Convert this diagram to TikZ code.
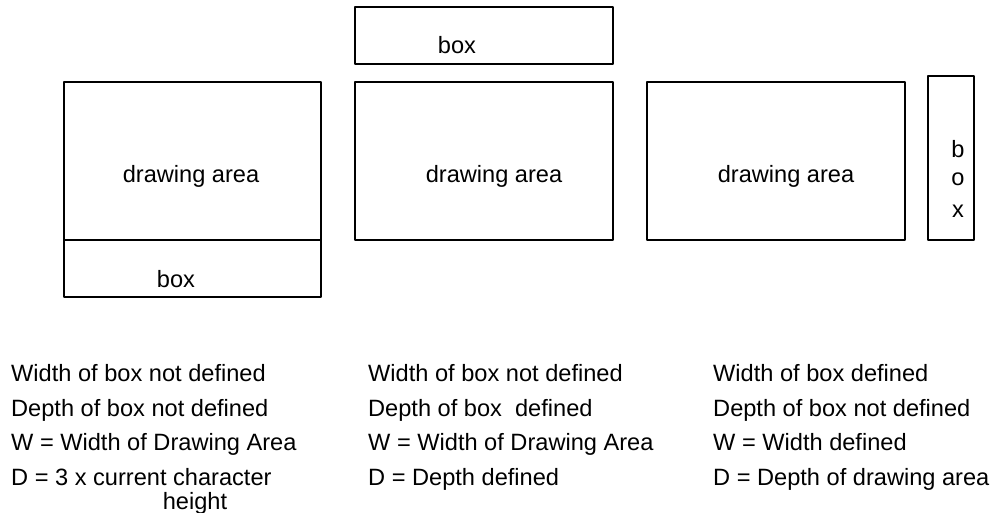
\documentclass[tikz,border=0pt]{standalone}
\usepackage{fontspec}
\setmainfont{Liberation Sans}
\begin{document}
\begin{tikzpicture}[x=1pt,y=-1pt,
  frame/.style={draw=black,line width=2pt,line join=round},
  lbl/.style={inner sep=0pt,anchor=base,font=\fontsize{23.6}{28}\selectfont},
  txt/.style={inner sep=0pt,anchor=base west,font=\fontsize{23.6}{28}\selectfont}]
\useasboundingbox (0,0) rectangle (1000,512);
% case 1
\draw[frame] (64,82) rectangle (321,240);
\draw[frame] (64,240) rectangle (321,297);
\node[lbl] (da1) at (191,182) {drawing area};
\node[lbl] (bx1) at (176,287) {box};
% case 2
\draw[frame] (355,7) rectangle (613,64);
\draw[frame] (355,82) rectangle (613,240);
\node[lbl] (bx2) at (457,53) {box};
\node[lbl] (da2) at (494,182) {drawing area};
% case 3
\draw[frame] (647,82) rectangle (905,240);
\draw[frame] (928,76) rectangle (974,240);
\node[lbl] (da3) at (786,182) {drawing area};
\node[lbl] (b3) at (958,157) {b};
\node[lbl] (o3) at (958,185) {o};
\node[lbl] (x3) at (958,217) {x};
% descriptions
\node[txt] (c1a) at (11,381) {Width of box not defined};
\node[txt] (c1b) at (11,416) {Depth of box not defined};
\node[txt] (c1c) at (11,450) {W = Width of Drawing Area};
\node[txt] (c1d) at (11,485) {D = 3 x current character};
\node[lbl] (c1e) at (195,509) {height};
\node[txt] (c2a) at (368,381) {Width of box not defined};
\node[txt] (c2b) at (368,416) {Depth of box\ \ defined};
\node[txt] (c2c) at (368,450) {W = Width of Drawing Area};
\node[txt] (c2d) at (368,485) {D = Depth defined};
\node[txt] (c3a) at (713,381) {Width of box defined};
\node[txt] (c3b) at (713,416) {Depth of box not defined};
\node[txt] (c3c) at (713,450) {W = Width defined};
\node[txt] (c3d) at (713,485) {D = Depth of drawing area};
\end{tikzpicture}
\end{document}
